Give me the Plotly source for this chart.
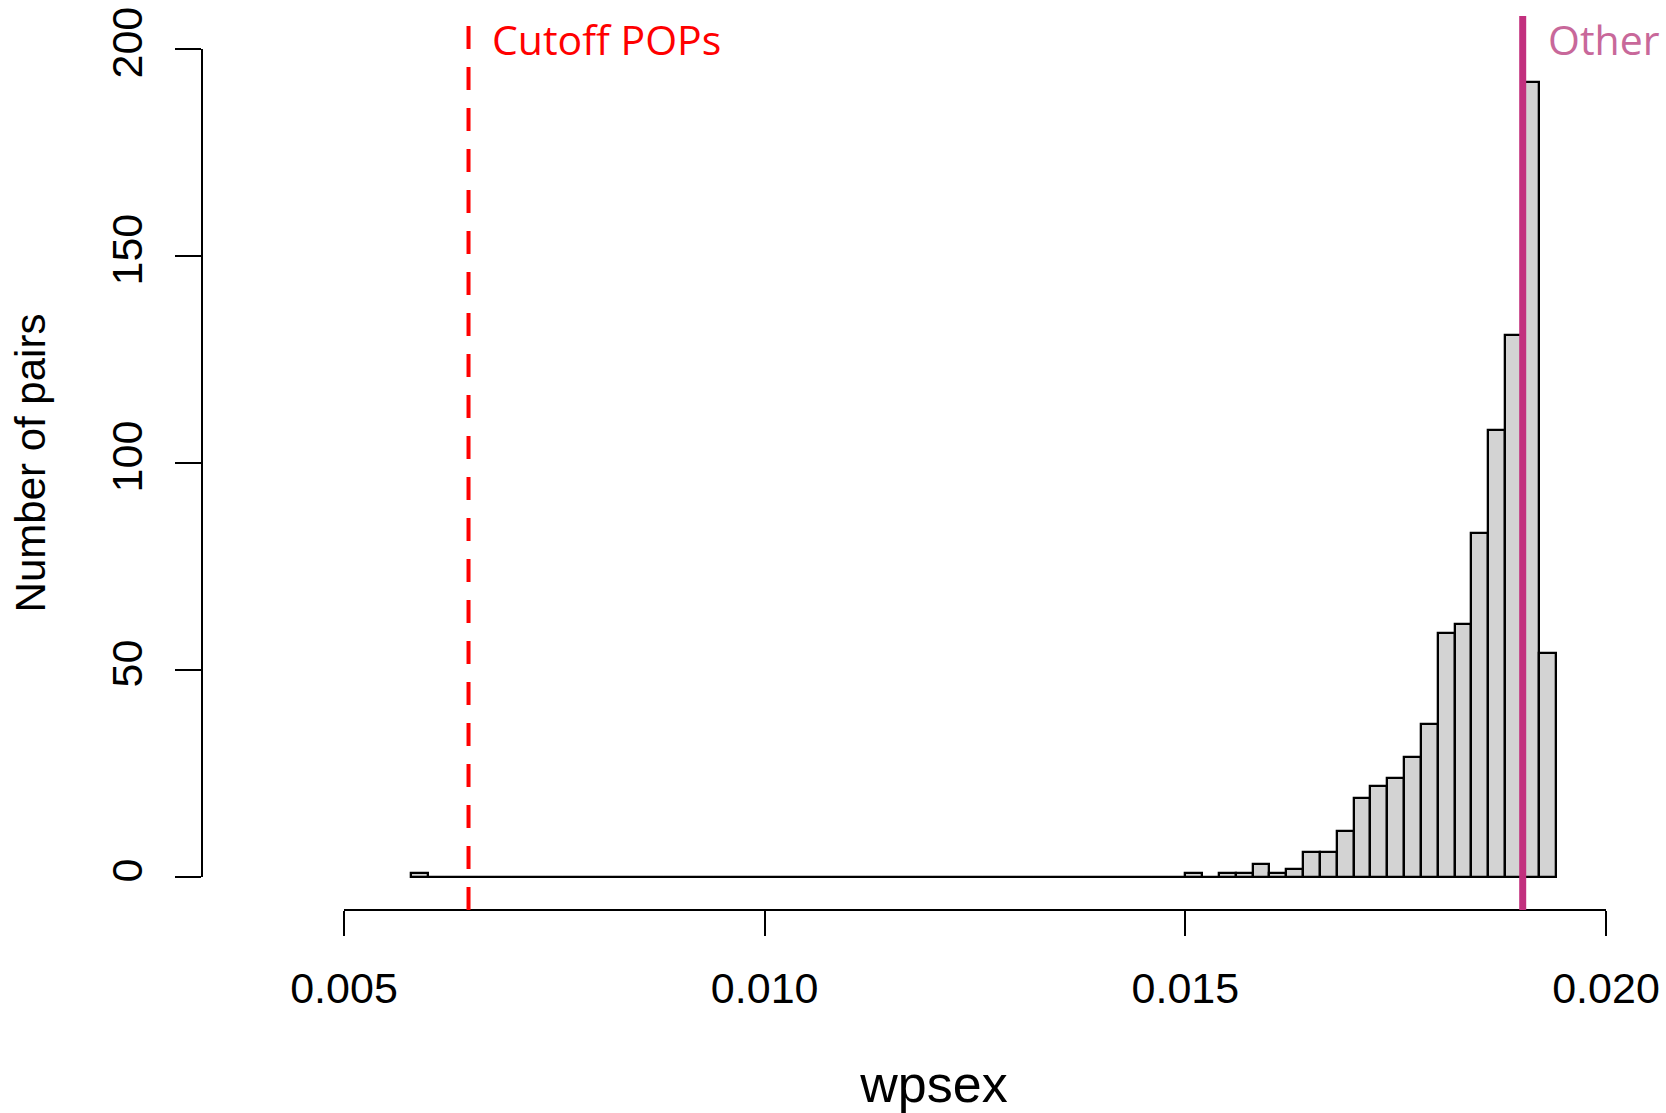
import plotly.graph_objects as go

# ---- data ----
bin_start = 0.0058
bin_width = 0.0002
counts = [1,
          0, 0, 0, 0, 0, 0, 0, 0, 0, 0,
          0, 0, 0, 0, 0, 0, 0, 0, 0, 0,
          0, 0, 0, 0, 0, 0, 0, 0, 0, 0,
          0, 0, 0, 0, 0, 0, 0, 0, 0, 0,
          0, 0, 0, 0, 0,
          1, 0, 1, 1, 3, 1, 2, 6, 6, 11,
          19, 22, 24, 29, 37, 59, 61, 83, 108, 131,
          192, 54]
x_ticks = [0.005, 0.010, 0.015, 0.020]
x_tick_labels = ["0.005", "0.010", "0.015", "0.020"]
y_ticks = [0, 50, 100, 150, 200]
y_tick_labels = ["0", "50", "100", "150", "200"]
cutoff_pops = 0.00648
other_value = 0.01901
x_title = "wpsex"
y_title = "Number of pairs"

FONT = "Liberation Sans, Arial, sans-serif"
ANN_FONT = "Open Sans, Noto Sans, sans-serif"

bin_end = bin_start + bin_width * len(counts)

fig = go.Figure()
# R draws empty bins as flat rectangles -> baseline
fig.add_trace(go.Scatter(x=[bin_start, bin_end], y=[0, 0], mode="lines",
                         line=dict(color="black", width=2), hoverinfo="skip",
                         showlegend=False))
fig.add_trace(go.Bar(x0=bin_start + bin_width / 2, dx=bin_width, y=counts,
                     width=bin_width,
                     marker=dict(color="#D3D3D3", line=dict(color="black", width=2.3)),
                     showlegend=False))

# axis lines as in base R (only across tick span)
fig.add_shape(type="line", xref="x", yref="paper", x0=x_ticks[0], x1=x_ticks[-1],
              y0=0, y1=0, line=dict(color="black", width=2))
fig.add_shape(type="line", xref="paper", yref="y", x0=0, x1=0,
              y0=y_ticks[0], y1=y_ticks[-1], line=dict(color="black", width=2))

# vertical reference lines
fig.add_shape(type="line", xref="x", yref="paper", x0=cutoff_pops, x1=cutoff_pops,
              y0=0, y1=1, line=dict(color="#FF0000", width=4, dash="23px,18px"))
fig.add_shape(type="line", xref="x", yref="paper", x0=other_value, x1=other_value,
              y0=0, y1=1, line=dict(color="#C2307E", width=7))

fig.add_annotation(text="Cutoff POPs", xref="x", yref="paper", x=0.00673, y=0.974,
                   xanchor="left", yanchor="middle", showarrow=False,
                   font=dict(family=ANN_FONT, size=41, color="#FF0000"))
fig.add_annotation(text="Other", xref="x", yref="paper", x=0.01929, y=0.974,
                   xanchor="left", yanchor="middle", showarrow=False,
                   font=dict(family=ANN_FONT, size=41, color="#C8689A"))

fig.update_layout(
    width=1666, height=1113,
    margin=dict(l=202, r=0, t=16, b=203),
    paper_bgcolor="white", plot_bgcolor="white",
    bargap=0,
    font=dict(family=FONT, size=43, color="black"),
    xaxis=dict(range=[0.0033122, 0.0207132], showgrid=False, zeroline=False,
               showline=False, tickmode="array", tickvals=x_ticks,
               ticktext=x_tick_labels, ticks="outside", ticklen=25, tickwidth=2,
               tickcolor="black", ticklabelstandoff=15, ticklabeloverflow="allow",
               title=dict(text=x_title, standoff=60)),
    yaxis=dict(range=[-8, 208], showgrid=False, zeroline=False, showline=False,
               tickmode="array", tickvals=y_ticks, ticktext=y_tick_labels,
               ticks="outside", ticklen=26, tickwidth=2, tickcolor="black",
               tickangle=-90, ticklabelstandoff=16, ticklabeloverflow="allow",
               title=dict(text=y_title, font=dict(size=42), standoff=44)),
)

fig.write_html("out.html")
